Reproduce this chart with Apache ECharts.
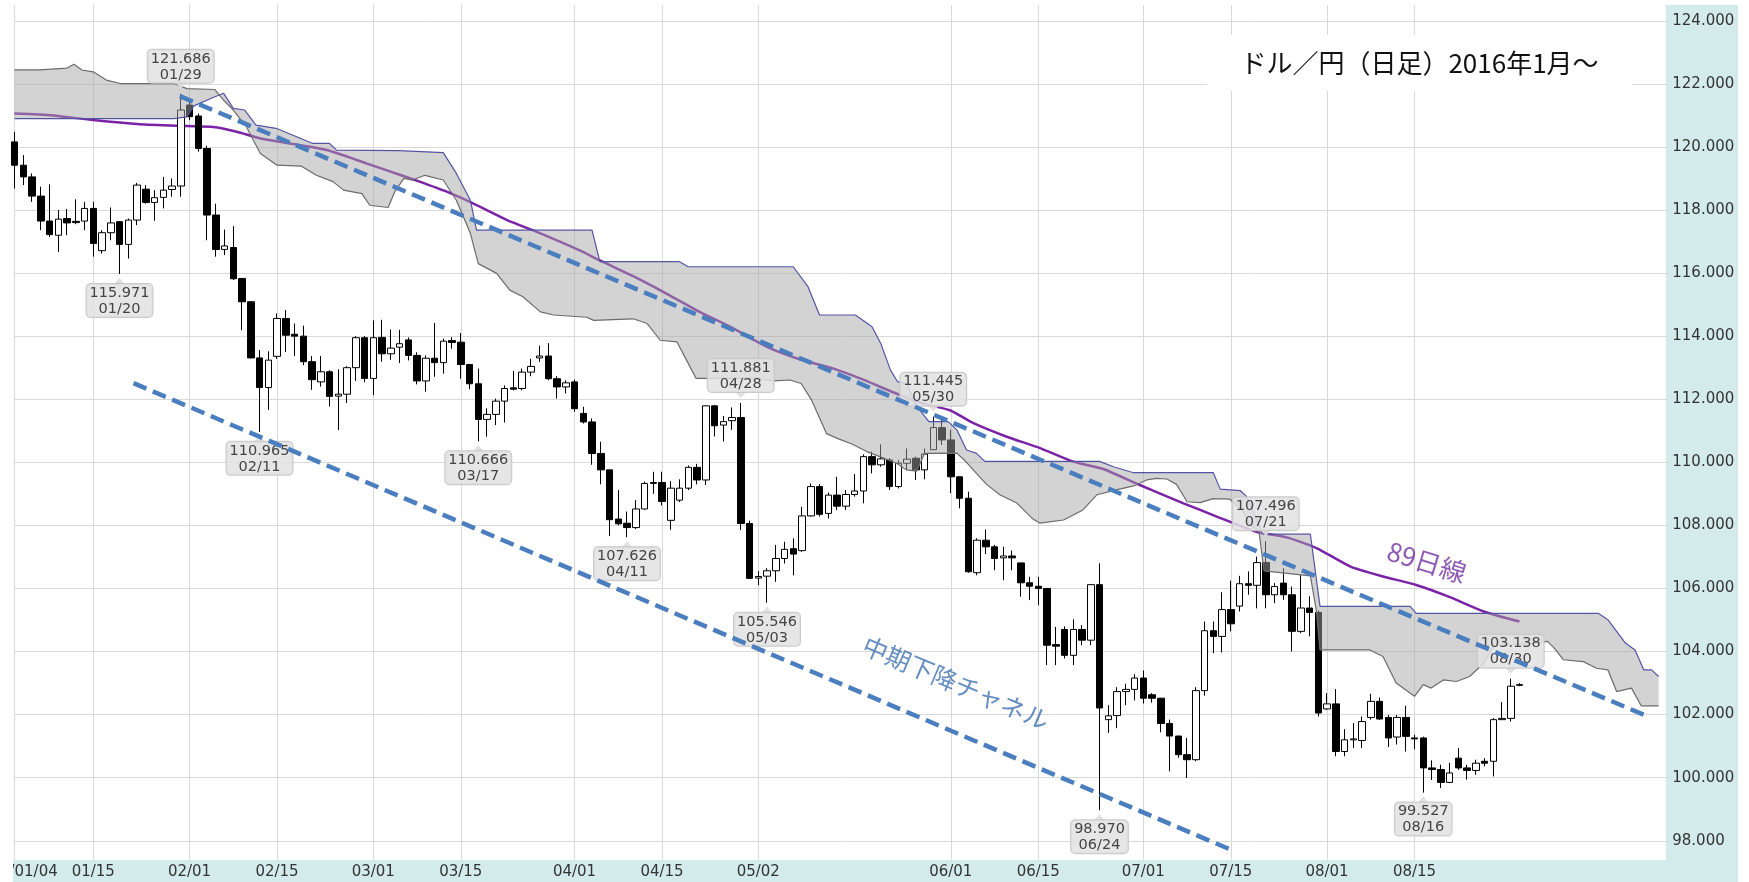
<!DOCTYPE html>
<html>
<head>
<meta charset="utf-8">
<title>ドル/円(日足)</title>
<script src="https://cdn.jsdelivr.net/npm/echarts@6.0.0/dist/echarts.min.js"></script>
<style>
html,body{margin:0;padding:0;background:#fff;}
#chart{width:1749px;height:882px;}
</style>
</head>
<body>
<div id="chart"></div>
<script>
// 日足 OHLC (2016/01/04 〜 08/31)
var opens = [
  120.16,119.42,119.05,118.44,117.65,117.20,117.73,117.64,117.65,118.05,
  116.71,117.28,117.63,116.91,117.68,118.66,118.24,118.40,118.65,118.76,
  121.33,120.98,119.95,117.84,116.75,116.81,115.83,115.09,113.31,112.37,
  113.36,114.56,114.06,114.00,113.19,112.55,112.87,112.10,112.16,113.00,
  113.95,112.66,113.96,113.44,113.65,113.88,113.39,112.58,113.30,113.16,
  113.86,113.81,113.10,112.49,111.36,111.52,111.94,112.36,112.34,112.86,
  113.31,113.37,112.65,112.39,112.55,111.55,111.28,110.28,109.76,108.20,
  108.07,107.93,108.52,109.33,109.36,108.16,108.80,109.18,109.84,109.44,
  111.79,111.18,111.32,111.42,108.06,106.33,106.39,106.56,106.95,107.26,
  107.20,108.30,109.23,108.38,108.96,108.61,108.98,109.09,110.18,109.92,
  110.07,109.23,109.97,110.13,109.76,110.40,111.10,110.71,109.54,108.86,
  106.50,107.53,107.32,106.97,107.03,106.81,106.18,106.07,106.00,104.22,
  104.70,103.88,104.70,104.36,106.12,101.84,101.97,102.73,102.80,103.16,
  102.63,102.52,101.72,101.32,100.73,100.57,102.76,104.66,104.48,105.33,
  105.44,106.15,106.10,106.82,105.80,106.17,105.80,104.64,105.38,105.24,
  102.18,102.34,100.83,101.20,101.18,101.91,102.42,101.91,101.29,101.91,
  101.26,101.26,100.31,100.26,99.85,100.62,100.31,100.23,100.52,100.52,
  101.84,101.88,102.95
];
var closes = [
  119.42,119.05,118.44,117.65,117.22,117.71,117.59,117.60,118.05,116.94,
  117.28,117.59,116.91,117.68,118.79,118.24,118.39,118.63,118.76,121.17,
  120.96,119.95,117.84,116.75,116.86,115.82,115.09,113.31,112.37,113.24,
  114.56,114.03,114.00,113.19,112.62,112.87,112.09,112.16,113.00,113.95,
  112.66,113.95,113.44,113.62,113.76,113.39,112.58,113.30,113.16,113.84,
  113.80,113.10,112.49,111.36,111.52,111.94,112.34,112.32,112.86,113.04,
  113.37,112.65,112.39,112.52,111.70,111.28,110.28,109.76,108.18,108.05,
  107.93,108.52,109.33,109.36,108.76,109.18,109.18,109.84,109.44,111.79,
  111.16,111.29,111.42,108.06,106.32,106.38,106.56,106.95,107.24,107.09,
  108.30,109.23,108.35,108.96,108.61,108.98,109.09,110.18,109.92,110.11,
  109.23,109.97,110.10,109.76,110.26,111.10,110.71,109.54,108.86,106.53,
  107.53,107.32,106.95,107.03,106.97,106.18,106.07,106.00,104.20,104.17,
  103.88,104.70,104.36,106.12,102.21,101.96,102.73,102.80,103.16,102.52,
  102.52,101.72,101.32,100.73,100.57,102.76,104.66,104.48,105.33,104.88,
  106.15,106.10,106.82,105.80,106.06,105.80,104.64,105.38,105.24,102.05,
  102.34,100.83,101.20,101.23,101.78,102.42,101.86,101.26,101.91,101.31,
  101.23,100.31,100.26,99.85,100.15,100.31,100.23,100.46,100.46,101.84,
  101.88,102.90,102.93
];
var lows = [
  118.68,118.79,118.26,117.36,117.15,116.67,117.20,117.55,117.36,116.52,
  116.62,117.04,115.971,116.46,117.52,118.20,117.66,118.05,118.42,118.42,
  120.85,119.85,117.04,116.52,116.57,115.78,114.19,113.30,110.965,111.66,
  113.28,113.50,113.37,113.08,112.30,112.40,111.77,111.02,111.88,112.58,
  112.54,112.13,113.19,113.25,113.15,113.23,112.47,112.24,112.71,112.81,
  113.60,112.65,112.32,110.666,110.81,111.18,111.26,112.28,112.28,112.73,
  113.18,112.60,112.02,112.18,111.60,111.23,109.92,109.30,107.66,108.00,
  107.626,107.88,108.50,109.00,108.63,107.86,108.74,109.12,109.30,109.28,
  110.82,110.66,111.03,107.85,106.30,106.10,105.546,106.21,106.79,106.42,
  107.16,108.28,108.28,108.22,108.49,108.49,108.91,108.70,109.65,109.86,
  109.12,109.17,109.76,109.44,109.46,110.39,110.55,109.02,108.54,106.50,
  106.42,107.09,106.58,106.26,106.58,105.74,105.63,105.47,103.57,103.57,
  103.78,103.57,104.20,104.20,98.970,101.42,101.57,102.30,102.45,102.35,
  102.38,101.44,100.20,100.63,99.99,100.52,102.60,103.95,103.97,104.64,
  105.27,105.80,105.37,105.37,105.53,105.64,104.00,104.58,104.48,101.94,
  102.15,100.68,100.68,100.94,100.94,101.84,101.84,100.97,101.05,100.83,
  100.90,99.527,99.93,99.67,99.83,100.25,99.94,100.09,100.36,100.04,
  101.84,101.78,102.90
];
var highs = [
  120.48,119.74,119.16,118.74,118.81,118.00,118.03,118.34,118.26,118.26,
  117.36,118.08,117.63,117.73,118.86,118.79,118.63,119.05,119.00,121.686,
  121.45,121.06,120.04,118.20,117.38,117.49,115.83,115.10,113.56,113.52,
  114.72,114.83,114.40,114.33,113.37,113.37,112.92,112.95,113.05,114.00,
  114.00,114.50,114.52,114.21,114.20,113.96,113.49,113.39,114.42,113.92,
  113.97,114.10,113.12,112.97,111.71,112.02,112.44,112.90,112.97,113.28,
  113.70,113.78,112.73,112.60,112.62,111.76,111.39,110.65,109.76,109.12,
  108.44,108.80,109.39,109.70,109.70,109.40,109.46,109.90,109.95,111.80,
  111.82,111.47,111.74,111.881,108.15,106.55,106.64,107.38,107.48,107.59,
  108.59,109.33,109.31,109.04,109.54,109.12,109.63,110.25,110.34,110.57,
  110.13,110.07,110.44,110.18,110.44,111.445,111.34,111.03,109.54,109.07,
  107.59,107.87,107.38,107.32,107.20,106.81,106.37,106.37,106.00,104.78,
  104.80,105.02,104.84,106.12,106.80,102.30,102.87,102.98,103.28,103.40,
  102.68,102.53,101.84,101.33,101.26,102.87,104.95,104.95,105.88,106.25,
  106.40,106.54,107.01,107.496,106.17,106.64,106.06,106.43,105.75,105.30,
  102.68,102.81,101.54,101.73,101.94,102.66,102.54,101.99,101.99,102.28,
  101.36,101.30,100.55,100.41,100.47,100.94,100.41,100.57,100.62,101.89,
  102.40,103.138,103.00
];

// 一目均衡表の雲 (先行スパン) [日数, 値]
var spanA = [
  [0,120.9],[18.2,120.9],[19.7,120.95],[20.5,121.3],[22.9,121.59],[23.9,121.7],[25,121.22],
  [26.3,121.17],[27.6,120.69],[29.9,120.59],[34.1,120.11],[36,120.11],[36.8,119.9],[44,119.88],
  [49,119.82],[50.5,119.16],[52.1,118.31],[52.8,117.36],[66,117.36],[66.9,116.36],[76,116.36],
  [77,116.2],[89,116.2],[90.7,115.56],[92,114.67],[96.1,114.67],[98,114.3],[99,113.77],
  [100.1,112.93],[100.9,112.56],[102,112.5],[103,111.82],[104.5,111.29],[106.7,111.29],
  [107.7,111.03],[108.8,110.39],[109.9,110.29],[110.9,110.03],[124,110.03],[125.6,109.86],
  [127.9,109.67],[137,109.67],[137.8,109.15],[140.1,109.1],[140.8,108.92],[142.7,107.72],
  [148.1,107.72],[149.2,105.43],[159.5,105.43],[160.2,105.21],[181,105.21],[182.1,105.01],
  [184.1,104.27],[185.2,104.05],[186.2,103.42],[187.1,103.42],[187.9,103.21]
];
var spanB = [
  [0,122.44],[2.9,122.44],[6,122.5],[6.8,122.62],[7.7,122.44],[9,122.38],[10.5,122.12],
  [12.1,122.01],[18.2,122.01],[19.7,121.85],[22.9,121.82],[23.9,121.48],[25,121.17],
  [26.5,120.64],[27.3,120.21],[28.1,119.79],[30,119.42],[32.8,119.39],[34.5,119.1],
  [36.4,118.9],[37.6,118.63],[39.7,118.52],[40.6,118.15],[42.7,118.08],[43.5,118.6],
  [44.5,119.0],[45.5,118.95],[46.9,119.1],[49,118.95],[50.5,118.31],[52.1,117.26],[53,116.3],
  [55.1,115.99],[56.6,115.46],[58.1,115.25],[60.1,114.77],[61.6,114.67],[65.4,114.6],
  [66.2,114.5],[70.7,114.55],[72.3,114.4],[73.8,113.87],[75.7,113.82],[76.8,113.24],
  [77.9,112.66],[84.8,112.67],[86.7,112.58],[88.6,112.61],[89.9,112.5],[91.1,111.97],
  [92.8,110.91],[94.1,110.75],[95.7,110.58],[97.4,110.34],[98.9,110.18],[100.8,109.97],
  [101.9,109.76],[103.1,109.72],[104,110.28],[107.7,110.29],[108.8,110.0],[110.3,109.54],
  [111.1,109.3],[112.6,108.97],[114.5,108.72],[116.4,108.2],[117.2,108.07],[119.9,108.17],
  [122.1,108.49],[123.7,108.97],[126.3,109.15],[127.9,109.25],[129.4,109.44],[130.5,109.49],
  [131.7,109.47],[132.8,109.3],[134,108.75],[135.5,108.72],[137,108.85],[138.9,108.83],
  [140.4,108.45],[141.2,108.0],[142.2,107.86],[142.8,106.56],[148.1,106.4],[148.8,105.27],
  [149.2,104.05],[154.9,104.05],[156.4,103.84],[157.9,103.0],[160,102.58],[161,102.95],
  [161.9,102.84],[163.3,103.1],[164.8,103.05],[166.3,103.21],[167.9,103.63],[169,104.16],
  [173.6,104.27],[175.2,104.32],[176,104.1],[177,103.74],[179.3,103.68],[180.8,103.47],
  [182.1,103.42],[183.1,102.73],[184.8,102.84],[185.9,102.28],[187.9,102.28]
];

// 89日移動平均線
var ma89 = [
  [0,121.06],[4.4,121.0],[9,120.85],[14.3,120.72],[19.7,120.66],[22.7,120.63],[25.4,120.48],
  [28.1,120.27],[31.5,120.11],[35.7,119.9],[40.2,119.48],[44.1,119.11],[46.3,118.9],
  [49.4,118.58],[52.4,118.21],[56.3,117.68],[60.1,117.26],[64.6,116.72],[66.9,116.4],
  [70.7,115.9],[74.5,115.35],[78.3,114.77],[82.2,114.24],[86,113.66],[89.8,113.26],
  [93.6,112.97],[97,112.62],[101.2,112.13],[104,111.85],[106.9,111.65],[109.6,111.24],
  [113.4,110.81],[117.2,110.45],[121,110.02],[124.5,109.78],[128.6,109.28],[131,109.0],
  [133.6,108.7],[137.4,108.28],[141.9,107.8],[145.4,107.62],[148.8,107.28],[152.7,106.69],
  [156.4,106.38],[160.2,106.11],[163.9,105.74],[167.9,105.27],[172,104.95]
];

// トレンドライン
var upperLine = [[18.9,121.61],[186.5,101.96]];
var lowerLine = [[13.6,112.51],[139.4,97.67]];

// 高値・安値の注記
var peakIdx  = [19, 12, 28, 53, 70, 83, 86, 105, 124, 143, 161, 171];
var peakVal  = [121.686, 115.971, 110.965, 110.666, 107.626, 111.881, 105.546, 111.445, 98.970, 107.496, 99.527, 103.138];
var peakDate = ['01/29','01/20','02/11','03/17','04/11','04/28','05/03','05/30','06/24','07/21','08/16','08/30'];
var peakSide = ['top','bottom','bottom','bottom','bottom','top','bottom','top','bottom','top','bottom','top'];

var tickDates = ['01/04','01/15','02/01','02/15','03/01','03/15','04/01','04/15','05/02','06/01','06/15','07/01','07/15','08/01','08/15'];

// 営業日 (平日) の日付ラベル
var dates = [];
var d = new Date(2016, 0, 4);
while (dates.length < 190) {
  var wd = d.getDay();
  if (wd !== 0 && wd !== 6) {
    dates.push(('0' + (d.getMonth() + 1)).slice(-2) + '/' + ('0' + d.getDate()).slice(-2));
  }
  d.setDate(d.getDate() + 1);
}

var candleData = [];
for (var i = 0; i < opens.length; i++) {
  candleData.push([opens[i], closes[i], lows[i], highs[i]]);
}

var marks = [];
for (var k = 0; k < peakIdx.length; k++) {
  var isTop = peakSide[k] === 'top';
  marks.push({
    coord: [peakIdx[k], peakVal[k]],
    symbol: isTop ? 'path://M0,0L10,0L5,6Z' : 'triangle',
    symbolSize: [11, 6],
    symbolOffset: [0, isTop ? -8 : 7],
    label: { position: peakSide[k], distance: 0, formatter: peakVal[k].toFixed(3) + '\n' + peakDate[k] }
  });
}

var isTick = function (idx, val) { return tickDates.indexOf(val) >= 0; };

var chart = echarts.init(document.getElementById('chart'));

var option = {
  animation: false,
  backgroundColor: '#fff',
  grid: { left: 14.5, right: 80.75, top: 5, bottom: 22, containLabel: false, outerBoundsMode: 'none' },
  xAxis: [{
    type: 'category',
    data: dates,
    boundaryGap: false,
    axisLine: { show: false },
    axisTick: { show: false },
    axisLabel: {
      interval: isTick,
      margin: 5,
      color: '#333',
      fontSize: 15,
      fontFamily: 'DejaVu Sans',
      formatter: function (v) { return v === '01/04' ? '2016/01/04' : v; }
    },
    splitLine: { show: true, interval: isTick, lineStyle: { color: '#d9d9d9', width: 1 } }
  }, {
    type: 'value', min: 0, max: 189, show: false
  }],
  yAxis: {
    type: 'value',
    position: 'right',
    min: 97.39,
    max: 124.5,
    splitNumber: 13,
    axisLine: { show: false },
    axisTick: { show: false },
    axisLabel: {
      margin: 4,
      color: '#333',
      fontSize: 15,
      fontFamily: 'DejaVu Sans',
      formatter: function (v) {
        var r = Math.round(v);
        return (Math.abs(v - r) < 1e-6 && r % 2 === 0) ? v.toFixed(3) : '';
      }
    },
    splitLine: { show: true, showMinLine: false, showMaxLine: false, lineStyle: { color: '#d9d9d9', width: 1 } }
  },
  graphic: [
    { type: 'rect', silent: true, z: -10, shape: { x: 1666, y: 5, width: 72, height: 877 }, style: { fill: '#d4ebec' } },
    { type: 'rect', silent: true, z: -10, shape: { x: 13, y: 860, width: 1725, height: 22 }, style: { fill: '#d4ebec' } },
    { type: 'rect', silent: true, z: 100, shape: { x: 0, y: 856, width: 13, height: 26 }, style: { fill: '#fff' } },
    { type: 'rect', silent: true, z: 10, shape: { x: 1207, y: 35, width: 425, height: 56 }, style: { fill: '#fff' } },
    { type: 'text', silent: true, z: 11, x: 1419.5, y: 63,
      style: { text: 'ドル／円（日足）2016年1月～', font: '26px "Noto Sans CJK JP"', fill: '#111',
               align: 'center', verticalAlign: 'middle', textAlign: 'center', textVerticalAlign: 'middle' } }
  ],
  series: [
    {
      name: '89日線',
      type: 'line',
      xAxisIndex: 1,
      data: ma89,
      smooth: 0.2,
      showSymbol: false,
      z: 2,
      lineStyle: { color: '#7b22a6', width: 2.5 }
    },
    {
      name: 'USDJPY',
      type: 'candlestick',
      data: candleData,
      barWidth: 7,
      z: 2,
      itemStyle: { color: '#fff', color0: '#000', borderColor: '#000', borderColor0: '#000', borderWidth: 1 },
      markPoint: {
        z: 5,
        itemStyle: { color: 'rgba(222,222,222,0.9)' },
        label: {
          show: true,
          color: '#444',
          fontSize: 14.5,
          fontFamily: 'DejaVu Sans',
          lineHeight: 16,
          align: 'center',
          backgroundColor: 'rgba(226,226,226,0.85)',
          borderColor: 'rgba(196,196,196,0.9)',
          borderWidth: 1,
          borderRadius: 4,
          padding: [1, 3, 0, 3]
        },
        data: marks
      }
    },
    {
      name: '雲',
      type: 'custom',
      xAxisIndex: 1,
      z: 3,
      silent: true,
      data: [[0, 120.9]],
      renderItem: function (params, api) {
        var pts = [];
        spanA.forEach(function (p) { pts.push(api.coord(p)); });
        for (var j = spanB.length - 1; j >= 0; j--) pts.push(api.coord(spanB[j]));
        return { type: 'polygon', shape: { points: pts }, style: { fill: 'rgba(165,165,165,0.49)' } };
      }
    },
    {
      name: '先行スパン1',
      type: 'line', xAxisIndex: 1, data: spanA, showSymbol: false, z: 4,
      lineStyle: { color: '#5454a4', width: 1.2 }
    },
    {
      name: '先行スパン2',
      type: 'line', xAxisIndex: 1, data: spanB, showSymbol: false, z: 4,
      lineStyle: { color: '#6c6c6c', width: 1.2 }
    },
    {
      name: '上値ライン',
      type: 'line', xAxisIndex: 1, data: upperLine, showSymbol: false, z: 6,
      lineStyle: { color: '#4a7ebf', width: 4.5, type: [14, 7] }
    },
    {
      name: '下値ライン',
      type: 'line', xAxisIndex: 1, data: lowerLine, showSymbol: false, z: 6,
      lineStyle: { color: '#4a7ebf', width: 4.5, type: [14, 7] }
    },
    {
      name: '注記',
      type: 'scatter', xAxisIndex: 1, z: 7, silent: true,
      symbolSize: 1,
      itemStyle: { color: 'rgba(0,0,0,0)' },
      data: [
        { value: [107.6, 103.0], label: { show: true, position: 'inside', formatter: '中期下降チャネル', rotate: -23,
          color: '#3e70b0', fontSize: 25, fontFamily: 'Noto Sans CJK JP' } },
        { value: [161.4, 106.84], label: { show: true, position: 'inside', formatter: '89日線', rotate: -17,
          color: '#7030a0', fontSize: 26, fontFamily: 'Noto Sans CJK JP' } }
      ]
    }
  ]
};

chart.setOption(option);
</script>
</body>
</html>
